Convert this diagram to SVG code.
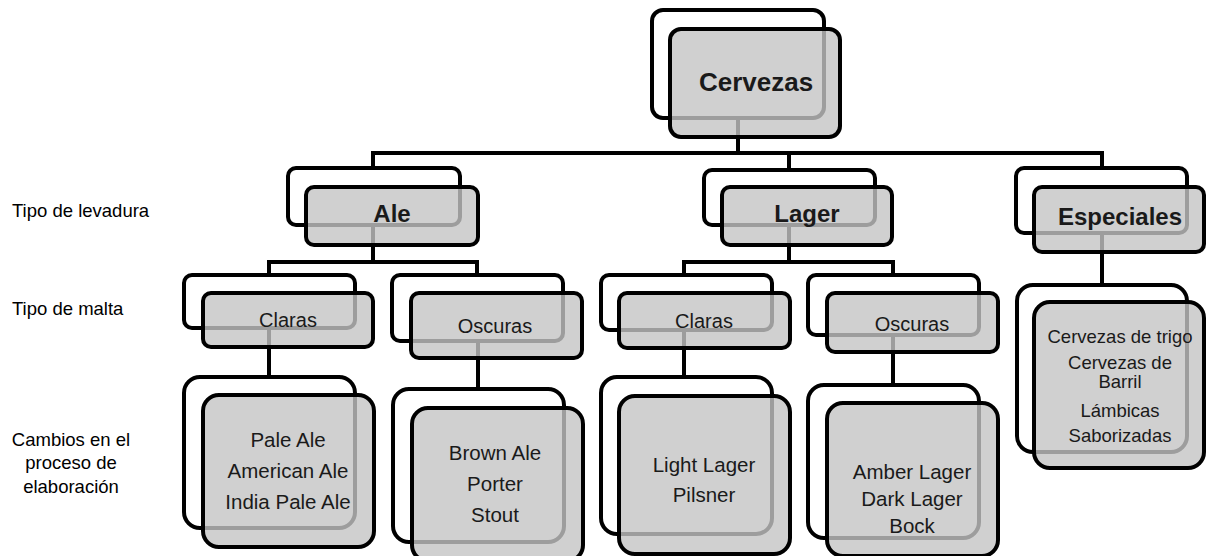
<svg xmlns="http://www.w3.org/2000/svg" width="1207" height="556" viewBox="0 0 1207 556">
  <style>
    .back { fill: #ffffff; stroke: #000000; stroke-width: 4; }
    .front { fill: #c4c4c4; fill-opacity: 0.8; stroke: #000000; stroke-width: 4; }
    .wire { fill: none; stroke: #000000; stroke-width: 4; }
    text { font-family: "Liberation Sans", Arial, sans-serif; fill: #1a1a1a; text-anchor: middle; }
    .t0 { font-size: 26px; font-weight: bold; }
    .t1 { font-size: 24px; font-weight: bold; }
    .t2 { font-size: 20px; }
    .t3 { font-size: 20.5px; }
    .t4 { font-size: 18.5px; }
    .side { font-size: 18.5px; fill: #000000; }
  </style>

  <rect width="1207" height="556" fill="#ffffff"/>

  <!-- connectors (drawn underneath the boxes) -->
  <g id="connectors" class="wire">
    <path d="M738 118 V153 M373 168 V153 H1102 V168 M789 153 V170"/>
    <path d="M373 225 V262 M269 275 V262 H477 V275"/>
    <path d="M789 225 V262 M684 275 V262 H893 V275"/>
    <path d="M1102 233 V285"/>
    <path d="M269 328 V377 M478 341 V389 M684 330 V378 M893 335 V385"/>
  </g>

  <!-- row labels -->
  <g id="labels">
    <text class="side" x="12" y="217" style="text-anchor:start">Tipo de levadura</text>
    <text class="side" x="12" y="315" style="text-anchor:start">Tipo de malta</text>
    <text class="side" x="71" y="446">Cambios en el</text>
    <text class="side" x="71" y="469">proceso de</text>
    <text class="side" x="71" y="493">elaboración</text>
  </g>

  <g id="cervezas">
    <rect class="back" x="652" y="10" width="172" height="108" rx="11"/>
    <rect class="front" x="670" y="29" width="170" height="108" rx="11"/>
    <text class="t0" x="756" y="91">Cervezas</text>
  </g>

  <g id="ale">
    <rect class="back" x="288" y="168" width="172" height="57" rx="8"/>
    <rect class="front" x="306" y="187" width="172" height="58" rx="8"/>
    <text class="t1" x="392" y="222">Ale</text>
  </g>

  <g id="lager">
    <rect class="back" x="704" y="170" width="171" height="55" rx="8"/>
    <rect class="front" x="722" y="187" width="170" height="58" rx="8"/>
    <text class="t1" x="807" y="222">Lager</text>
  </g>

  <g id="especiales">
    <rect class="back" x="1016" y="168" width="171" height="65" rx="8"/>
    <rect class="front" x="1034" y="187" width="170" height="65" rx="8"/>
    <text class="t1" x="1120" y="225">Especiales</text>
  </g>

  <g id="ale-claras">
    <rect class="back" x="184" y="275" width="171" height="53" rx="8"/>
    <rect class="front" x="203" y="293" width="170" height="54" rx="8"/>
    <text class="t2" x="288" y="327">Claras</text>
  </g>

  <g id="ale-oscuras">
    <rect class="back" x="392" y="275" width="171" height="66" rx="8"/>
    <rect class="front" x="411" y="293" width="171" height="65" rx="8"/>
    <text class="t2" x="495" y="333">Oscuras</text>
  </g>

  <g id="lager-claras">
    <rect class="back" x="601" y="275" width="171" height="55" rx="8"/>
    <rect class="front" x="619" y="293" width="171" height="55" rx="8"/>
    <text class="t2" x="704" y="328">Claras</text>
  </g>

  <g id="lager-oscuras">
    <rect class="back" x="808" y="275" width="171" height="60" rx="8"/>
    <rect class="front" x="827" y="293" width="171" height="59" rx="8"/>
    <text class="t2" x="912" y="331">Oscuras</text>
  </g>

  <g id="ale-claras-tipos">
    <rect class="back" x="184" y="377" width="171" height="151" rx="16"/>
    <rect class="front" x="203" y="395" width="171" height="152" rx="16"/>
    <text class="t3" x="288" y="447">Pale Ale</text>
    <text class="t3" x="288" y="478">American Ale</text>
    <text class="t3" x="288" y="509">India Pale Ale</text>
  </g>

  <g id="ale-oscuras-tipos">
    <rect class="back" x="393" y="389" width="171" height="153" rx="16"/>
    <rect class="front" x="412" y="408" width="171" height="153" rx="16"/>
    <text class="t3" x="495" y="460">Brown Ale</text>
    <text class="t3" x="495" y="491">Porter</text>
    <text class="t3" x="495" y="522">Stout</text>
  </g>

  <g id="lager-claras-tipos">
    <rect class="back" x="601" y="377" width="171" height="157" rx="16"/>
    <rect class="front" x="619" y="396" width="171" height="158" rx="16"/>
    <text class="t3" x="704" y="472">Light Lager</text>
    <text class="t3" x="704" y="502">Pilsner</text>
  </g>

  <g id="lager-oscuras-tipos">
    <rect class="back" x="808" y="385" width="171" height="153" rx="16"/>
    <rect class="front" x="827" y="403" width="171" height="153" rx="16"/>
    <text class="t3" x="912" y="479">Amber Lager</text>
    <text class="t3" x="912" y="506">Dark Lager</text>
    <text class="t3" x="912" y="533">Bock</text>
  </g>

  <g id="especiales-tipos">
    <rect class="back" x="1017" y="285" width="170" height="167" rx="16"/>
    <rect class="front" x="1034" y="302" width="170" height="166" rx="16"/>
    <text class="t4" x="1120" y="343">Cervezas de trigo</text>
    <text class="t4" x="1120" y="369">Cervezas de</text>
    <text class="t4" x="1120" y="388">Barril</text>
    <text class="t4" x="1120" y="417">Lámbicas</text>
    <text class="t4" x="1120" y="442">Saborizadas</text>
  </g>
</svg>
